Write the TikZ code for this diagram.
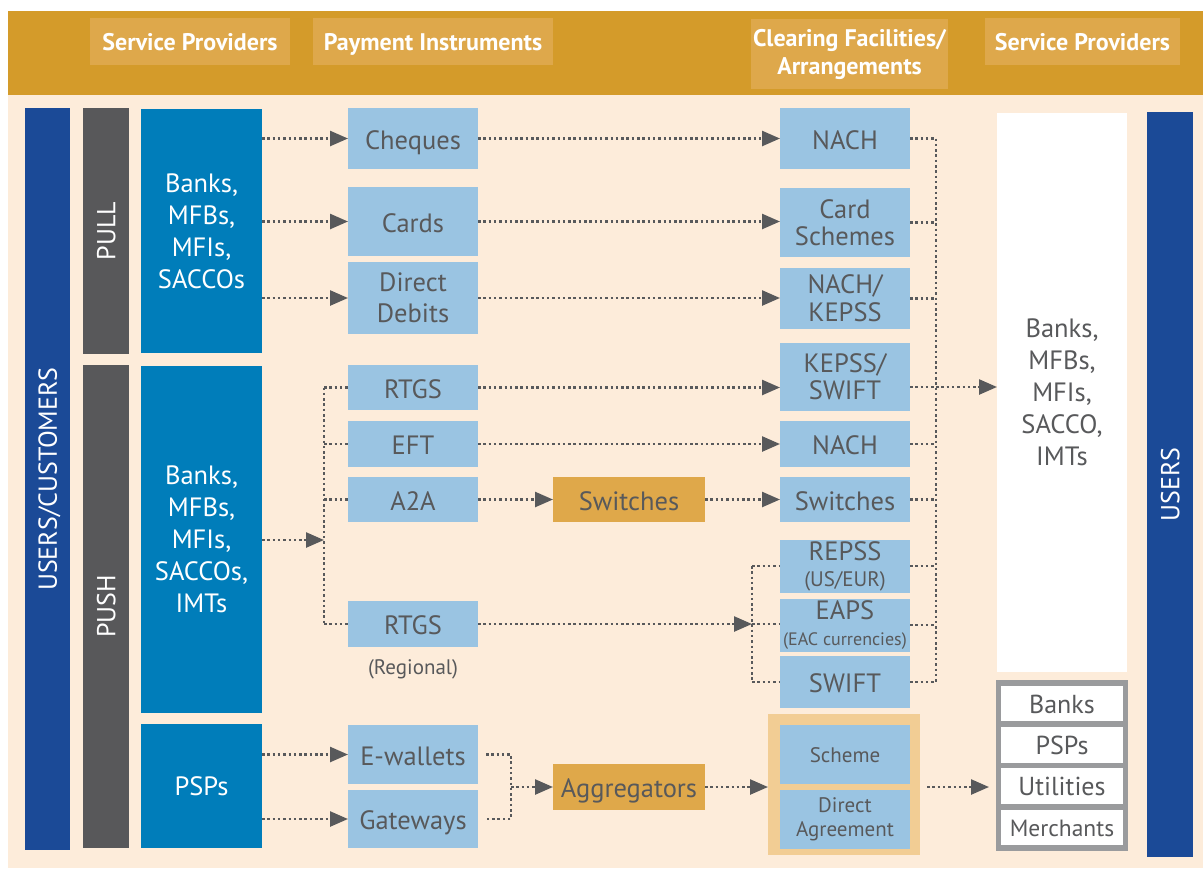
\documentclass[tikz,border=0pt]{standalone}
\usepackage{fontspec}
\setmainfont{PT Sans}
\usetikzlibrary{arrows.meta}
\definecolor{band}{HTML}{D49B2A}
\definecolor{hlab}{HTML}{DEA84B}
\definecolor{cream}{HTML}{FDECDA}
\definecolor{dblue}{HTML}{1B4A97}
\definecolor{gbar}{HTML}{58585A}
\definecolor{sblue}{HTML}{007DBA}
\definecolor{lblue}{HTML}{9AC4E2}
\definecolor{goldbox}{HTML}{DFA84A}
\definecolor{framec}{HTML}{F2CD94}
\definecolor{tgrey}{HTML}{58595B}
\definecolor{lgrey}{HTML}{9A9B9D}
\tikzset{
 dotl/.style={draw=tgrey, line width=2.5pt, dash pattern=on 2.5pt off 2.8pt},
 darr/.style={dotl, -{Triangle[length=18pt,width=15pt]}},
 box/.style={inner sep=0pt, outer sep=0pt, align=center},
 sl/.style={text height=#1, text depth=0pt},
 sl/.default=21pt,
 hdr/.style={box, fill=hlab, text=white, font=\bfseries\fontsize{24}{28}\selectfont},
 inst/.style={box, fill=lblue, text=tgrey, minimum width=130pt, font=\fontsize{26.5}{30}\selectfont},
 goldb/.style={box, sl=21pt, fill=goldbox, text=tgrey, minimum width=152pt, font=\fontsize{26.5}{30}\selectfont},
 spb/.style={box, fill=sblue, text=white, minimum width=121pt, font=\fontsize{26.5}{32}\selectfont},
 vbar/.style={box, sl=18.5pt, text=white, rotate=90, font=\fontsize{26}{30}\selectfont},
 cell/.style={box, sl=19pt, fill=white, text=tgrey, minimum width=122pt, font=\fontsize{26}{29}\selectfont},
}
\begin{document}
\begin{tikzpicture}[x=1pt,y=-1pt]
\useasboundingbox (0,0) rectangle (1203,871);
\fill[white] (0,0) rectangle (1203,871);
\fill[band] (8,11) rectangle (1203,95);
\fill[cream] (8,95) rectangle (1203,868);
% headers
\node[hdr, sl=18pt, minimum width=200pt, minimum height=47pt] (h1) at (190,41.5) {Service Providers};
\node[hdr, sl=18pt, minimum width=240pt, minimum height=47pt] (h2) at (433,41.5) {Payment Instruments};
\node[hdr, minimum width=197pt, minimum height=70pt] (h3) at (849.5,54) {Clearing Facilities/\\Arrangements};
\node[hdr, sl=18pt, minimum width=195pt, minimum height=47pt] (h4) at (1082.5,41.5) {Service Providers};
% vertical bars
\node[vbar, fill=dblue, minimum width=742pt, minimum height=45pt] (uc) at (47.5,479) {USERS/CUSTOMERS};
\node[vbar, fill=gbar, minimum width=246pt, minimum height=46pt] (pull) at (106,231) {PULL};
\node[vbar, fill=gbar, minimum width=483pt, minimum height=46pt] (push) at (106,606.5) {PUSH};
\node[vbar, fill=dblue, minimum width=745pt, minimum height=46pt] (usr) at (1170,484.5) {USERS};
% service providers
\node[spb, minimum height=244pt] (bp1) at (201.5,231) {Banks,\\MFBs,\\MFIs,\\SACCOs};
\node[spb, minimum height=347pt] (bp2) at (201.5,539.5) {Banks,\\MFBs,\\MFIs,\\SACCOs,\\IMTs};
\node[spb, sl=19pt, minimum height=124pt] (psp) at (201.5,786) {PSPs};
% instruments
\node[inst, sl, minimum height=61pt] (cheq) at (413,138.5) {Cheques};
\node[inst, sl, minimum height=69pt] (cards) at (413,221.5) {Cards};
\node[inst, minimum height=72pt, font=\fontsize{26.5}{31}\selectfont] (dd) at (413,298) {Direct\\Debits};
\node[inst, sl, minimum height=45pt] (rtgs) at (413,387.5) {RTGS};
\node[inst, sl, minimum height=46pt] (eft) at (413,444) {EFT};
\node[inst, sl, minimum height=45pt] (a2a) at (413,499.5) {A2A};
\node[inst, sl, minimum height=46pt] (rtgsr) at (413,624) {RTGS};
\node[text=tgrey, inner sep=0pt, font=\fontsize{21}{24}\selectfont] (reg) at (413,669) {(Regional)};
\node[inst, sl, minimum height=59pt] (ewal) at (413,754.5) {E-wallets};
\node[inst, sl, minimum height=58pt] (gate) at (413,819) {Gateways};
% gold
\node[goldb, minimum height=45pt] (sw1) at (629,499.5) {Switches};
\node[goldb, minimum height=46pt] (agg) at (629,787) {Aggregators};
% clearing
\node[inst, sl, minimum height=61pt] (nach1) at (845,138.5) {NACH};
\node[inst, minimum height=69pt, font=\fontsize{26.5}{27}\selectfont] (cs) at (845,222.5) {Card\\Schemes};
\node[inst, minimum height=61pt, font=\fontsize{26.5}{28}\selectfont] (nk) at (845,298.5) {NACH/\\KEPSS};
\node[inst, minimum height=68pt, font=\fontsize{26.5}{27}\selectfont] (ks) at (845,377) {KEPSS/\\SWIFT};
\node[inst, sl, minimum height=46pt] (nach2) at (845,444) {NACH};
\node[inst, sl, minimum height=45pt] (sw2) at (845,499.5) {Switches};
\node[inst, minimum height=53pt, font=\fontsize{26.5}{26}\selectfont] (repss) at (845,566) {REPSS\\{\fontsize{21}{22}\selectfont(US/EUR)}};
\node[inst, minimum height=53pt, font=\fontsize{26.5}{26}\selectfont] (eaps) at (845,625) {EAPS\\{\fontsize{18}{20}\selectfont(EAC currencies)}};
\node[inst, sl, minimum height=52pt] (swift) at (845,682) {SWIFT};
\node[box, fill=framec, minimum width=152pt, minimum height=141pt] (frame) at (844,784.5) {};
\node[inst, sl=16pt, minimum height=59pt, font=\fontsize{21}{24}\selectfont] (scheme) at (845,754.5) {Scheme};
\node[inst, minimum height=59pt, font=\fontsize{21}{24}\selectfont] (da) at (845,819.5) {Direct\\Agreement};
% right side
\node[box, fill=white, text=tgrey, minimum width=130pt, minimum height=559pt, font=\fontsize{26.5}{32}\selectfont] (wb) at (1062,392.5) {Banks,\\MFBs,\\MFIs,\\SACCO,\\IMTs};
\node[box, fill=lgrey, minimum width=132pt, minimum height=171pt] (lst) at (1062,765.5) {};
\node[cell, minimum height=35pt] (cb) at (1062,703.5) {Banks};
\node[cell, minimum height=36pt] (cp) at (1062,745) {PSPs};
\node[cell, minimum height=36pt] (cu) at (1062,786) {Utilities};
\node[cell, sl=17.5pt, minimum height=35pt, font=\fontsize{23.5}{26}\selectfont] (cm) at (1062,827.5) {Merchants};
% pull connectors
\draw[darr] (bp1.east |- cheq.west) -- (cheq.west);
\draw[darr] (bp1.east |- cards.west) -- (cards.west);
\draw[darr] (bp1.east |- dd.west) -- (dd.west);
\draw[darr] (cheq.east) -- (nach1.west);
\draw[darr] (cards.east) -- (cards.east -| cs.west);
\draw[darr] (dd.east) -- (nk.west |- dd.east);
% push connectors
\coordinate (pb) at (324,540);
\draw[darr] (bp2.east |- pb) -- (pb);
\draw[dotl] (pb |- rtgs.west) -- (pb |- rtgsr.west);
\draw[dotl] (pb |- rtgs.west) -- (rtgs.west);
\draw[dotl] (pb |- eft.west) -- (eft.west);
\draw[dotl] (pb |- a2a.west) -- (a2a.west);
\draw[dotl] (pb |- rtgsr.west) -- (rtgsr.west);
\draw[darr] (rtgs.east) -- (ks.west |- rtgs.east);
\draw[darr] (eft.east) -- (nach2.west);
\draw[darr] (a2a.east) -- (sw1.west);
\draw[darr] (sw1.east) -- (sw2.west);
\coordinate (cb2) at (752,624);
\draw[darr] (rtgsr.east) -- (cb2);
\draw[dotl] (cb2 |- repss.west) -- (cb2 |- swift.west);
\draw[dotl] (cb2 |- repss.west) -- (repss.west);
\draw[dotl] (cb2) -- (eaps.west |- cb2);
\draw[dotl] (cb2 |- swift.west) -- (swift.west);
% right bus
\coordinate (rb) at (936,387);
\draw[dotl] (rb |- nach1.east) -- (rb |- swift.east);
\draw[dotl] (nach1.east) -- (rb |- nach1.east);
\draw[dotl] (cs.east) -- (rb |- cs.east);
\draw[dotl] (nk.east) -- (rb |- nk.east);
\draw[dotl] (ks.east |- rb) -- (rb);
\draw[dotl] (nach2.east) -- (rb |- nach2.east);
\draw[dotl] (sw2.east) -- (rb |- sw2.east);
\draw[dotl] (repss.east) -- (rb |- repss.east);
\draw[dotl] (eaps.east) -- (rb |- eaps.east);
\draw[dotl] (swift.east) -- (rb |- swift.east);
\draw[darr] (rb) -- (wb.west |- rb);
% bottom
\coordinate (ab) at (511,787);
\draw[darr] (psp.east |- ewal.west) -- (ewal.west);
\draw[darr] (psp.east |- gate.west) -- (gate.west);
\draw[dotl] ([xshift=8pt]ewal.east) -- (ab |- ewal.east) -- (ab |- gate.east) -- ([xshift=8pt]gate.east);
\draw[darr] (ab) -- (agg.west);
\draw[darr] (agg.east) -- (frame.west |- agg.east);
\draw[darr] ([xshift=7pt]frame.east |- agg.east) -- ([xshift=-7pt]lst.west |- agg.east);
\end{tikzpicture}
\end{document}
